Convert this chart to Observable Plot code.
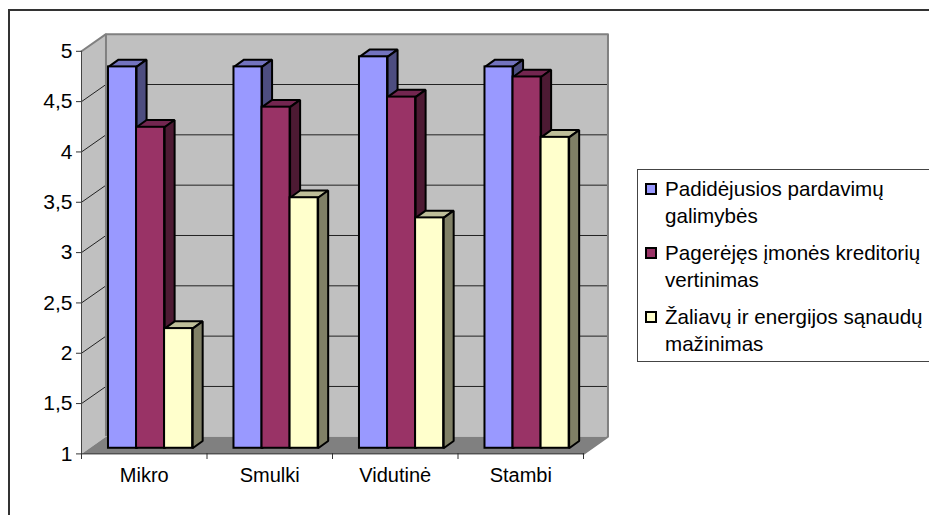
<!DOCTYPE html>
<html lang="lt">
<head>
<meta charset="utf-8">
<script src="https://cdn.jsdelivr.net/npm/d3@7"></script>
<script src="https://cdn.jsdelivr.net/npm/@observablehq/plot@0.6"></script>
<style>
  html, body { margin: 0; padding: 0; background: #fff; width: 929px; height: 515px; overflow: hidden; }
  #page { position: relative; width: 929px; height: 515px; overflow: hidden; font-family: "Liberation Sans", Arial, sans-serif; color: #000; }
  #page svg { position: absolute; left: 0; top: 0; }
  #outer { position: absolute; left: 8px; top: 9px; width: 960px; height: 560px; border: 2px solid #333; box-sizing: border-box; }
  #legend { position: absolute; left: 637px; top: 169px; width: 320px; height: 193px; border: 1px solid #444; box-sizing: border-box; background: #fff; }
  .item { position: absolute; left: 27px; font-size: 20.6px; line-height: 27px; white-space: pre; }
  .swatch { position: absolute; left: -20px; top: 8px; width: 12px; height: 12px; border: 2px solid #000; box-sizing: border-box; }
</style>
</head>
<body>
<div id="page">
  <div id="outer"></div>
  <div id="chart"></div>
  <div id="legend"></div>
</div>
<script>
const categories = ["Mikro", "Smulki", "Vidutinė", "Stambi"];
const seriesNames = ["Padidėjusios pardavimų\ngalimybės", "Pagerėjęs įmonės kreditorių\nvertinimas", "Žaliavų ir energijos sąnaudų\nmažinimas"];
const sales = [4.8, 4.8, 4.9, 4.8];
const creditors = [4.2, 4.4, 4.5, 4.7];
const materials = [2.2, 3.5, 3.3, 4.1];
const yTicks = [1, 1.5, 2, 2.5, 3, 3.5, 4, 4.5, 5];
const frontColors = ["#9999FF", "#993366", "#FFFFCC"];
const topColors = ["#7373BF", "#732650", "#BFBF99"];
const sideColors = ["#4D4D80", "#4D1A33", "#808066"];
const legendTops = [5, 69, 133];

const seriesValues = [sales, creditors, materials];
// depth of the 3D box and of the bars, in scale units
const wallDx = 0.195, wallDy = 0.17;
const barDx = 0.08, barDy = 0.072;
const barBase = 1.056, barLift = 0.045;
const barStart = 0.215, barWidth = 0.2235;
const xEnd = categories.length;

const poly = (id, pts) => pts.map(([x, y]) => ({id, x, y}));

function barRows(s) {
  return seriesValues[s].map((v, c) => {
    const x1 = c + barStart + s * barWidth;
    return {x1, x2: x1 + barWidth, y1: barBase, y2: v + barLift, c};
  });
}

function barMarks(s) {
  const rows = barRows(s);
  const tops = rows.flatMap((r, i) => poly("t" + i, [
    [r.x1, r.y2], [r.x2, r.y2], [r.x2 + barDx, r.y2 + barDy], [r.x1 + barDx, r.y2 + barDy]
  ]));
  const sides = rows.flatMap((r, i) => poly("s" + i, [
    [r.x2, r.y1], [r.x2, r.y2], [r.x2 + barDx, r.y2 + barDy], [r.x2 + barDx, r.y1 + barDy]
  ]));
  const faceStyle = {x: "x", y: "y", z: "id", curve: "linear-closed", stroke: "#000", strokeWidth: 2, strokeLinejoin: "miter"};
  return [
    Plot.line(tops, {...faceStyle, fill: topColors[s]}),
    Plot.line(sides, {...faceStyle, fill: sideColors[s]}),
    Plot.rect(rows, {x1: "x1", x2: "x2", y1: "y1", y2: "y2", fill: frontColors[s], stroke: "#000", strokeWidth: 2, inset: 0})
  ];
}

const wallStyle = {x: "x", y: "y", curve: "linear-closed", stroke: "none"};
const commaFormat = d => String(d).replace(".", ",");

const chart = Plot.plot({
  width: 929,
  height: 515,
  marginLeft: 81,
  marginRight: 346,
  marginTop: 51,
  marginBottom: 62,
  style: {background: "transparent", fontFamily: '"Liberation Sans", Arial, sans-serif', color: "#000"},
  x: {domain: [0, xEnd], range: [81, 583], axis: null},
  y: {domain: [1, 5], range: [453.4, 50.8], axis: null},
  marks: [
    // back wall, side wall, floor
    Plot.line(poly("back", [[wallDx, 1 + wallDy], [xEnd + wallDx, 1 + wallDy], [xEnd + wallDx, 5 + wallDy], [wallDx, 5 + wallDy]]), {...wallStyle, fill: "#C0C0C0"}),
    Plot.line(poly("side", [[0, 1], [wallDx, 1 + wallDy], [wallDx, 5 + wallDy], [0, 5]]), {...wallStyle, fill: "#C0C0C0"}),
    Plot.line(poly("floor", [[0, 1], [xEnd, 1], [xEnd + wallDx, 1 + wallDy], [wallDx, 1 + wallDy]]), {...wallStyle, fill: "#808080"}),
    // gridlines on the back and side walls
    Plot.ruleY(yTicks.slice(1, -1), {y: d => d + wallDy, x1: wallDx, x2: xEnd + wallDx, stroke: "#222", strokeWidth: 1}),
    Plot.link(yTicks.slice(1, -1), {x1: 0, y1: d => d, x2: wallDx, y2: d => d + wallDy, stroke: "#222", strokeWidth: 1}),
    // wall edges
    Plot.line(poly("edge", [[0, 5], [wallDx, 5 + wallDy], [xEnd + wallDx, 5 + wallDy], [xEnd + wallDx, 1 + wallDy], [xEnd, 1]]), {x: "x", y: "y", stroke: "#808080", strokeWidth: 2, curve: "linear"}),
    Plot.ruleX([wallDx], {y1: 1 + wallDy, y2: 5 + wallDy, stroke: "#808080", strokeWidth: 2}),
    // bars, left to right so that each covers its neighbour's side
    ...seriesValues.flatMap((_, s) => barMarks(s)),
    // axis lines
    Plot.ruleX([0], {y1: 1, y2: 5, stroke: "#444", strokeWidth: 1}),
    Plot.ruleY([1], {x1: 0, x2: xEnd, stroke: "#333", strokeWidth: 1}),
    Plot.axisY({ticks: yTicks, tickFormat: commaFormat, tickSize: 5, tickPadding: 4, fontSize: 21, label: null, stroke: "#333"}),
    Plot.axisX({ticks: d3.range(0, xEnd + 1), tickFormat: () => "", tickSize: 6, label: null, stroke: "#333"}),
    Plot.axisX({ticks: categories.map((_, i) => i + 0.5), tickFormat: d => categories[d - 0.5], tickSize: 0, tickPadding: 14, fontSize: 20, label: null})
  ]
});
document.getElementById("chart").append(chart);

const legend = document.getElementById("legend");
seriesNames.forEach((name, i) => {
  const item = document.createElement("div");
  item.className = "item";
  item.style.top = legendTops[i] + "px";
  item.textContent = name;
  const swatch = document.createElement("div");
  swatch.className = "swatch";
  swatch.style.background = frontColors[i];
  item.append(swatch);
  legend.append(item);
});
</script>
</body>
</html>
